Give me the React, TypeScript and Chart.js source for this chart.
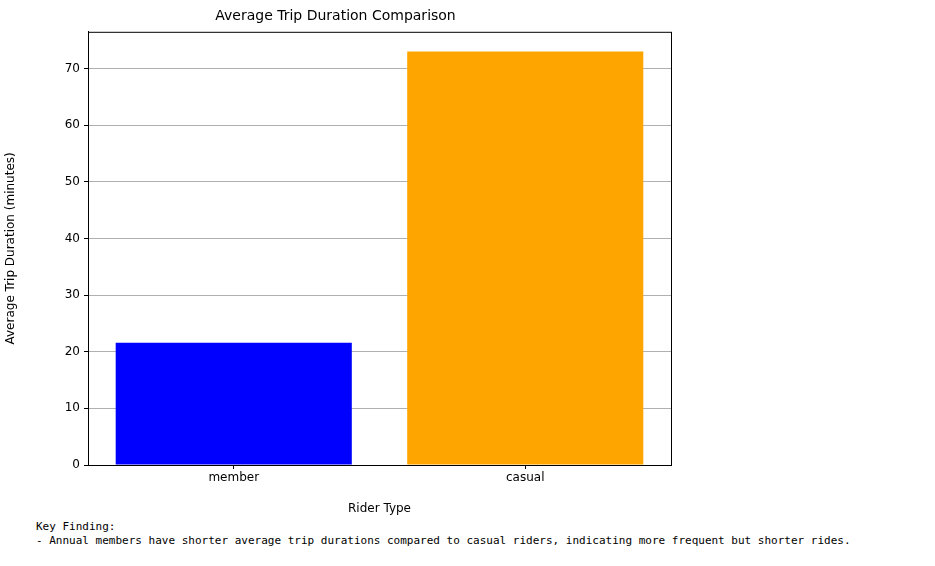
import { useEffect, useRef } from "react";
import { Chart, registerables } from "chart.js";

Chart.register(...registerables);

const riderTypes = ["member", "casual"];
const avgDuration = [21.6, 73.0];
const barColors = ["#0000ff", "#ffa500"];
const yTicks = [0, 10, 20, 30, 40, 50, 60, 70];

const boxPlugin = {
  id: "box",
  afterDraw(chart: any) {
    const { ctx, chartArea } = chart;
    ctx.save();
    ctx.strokeStyle = "#000";
    ctx.lineWidth = 1;
    ctx.strokeRect(chartArea.left + 0.5, chartArea.top + 0.5, chartArea.right - chartArea.left, chartArea.bottom - chartArea.top);
    ctx.restore();
  },
};

export default function App() {
  const chartRef = useRef<HTMLCanvasElement>(null);
  const chartInstance = useRef<Chart | null>(null);

  useEffect(() => {
    if (!chartRef.current) return;
    if (chartInstance.current) chartInstance.current.destroy();
    const ctx = chartRef.current.getContext("2d");
    if (!ctx) return;

    chartInstance.current = new Chart(ctx, {
      type: "bar",
      data: {
        labels: riderTypes,
        datasets: [{
          data: avgDuration,
          backgroundColor: barColors,
          barPercentage: 0.81,
          categoryPercentage: 1,
        }],
      },
      plugins: [boxPlugin],
      options: {
        animation: false,
        responsive: false,
        devicePixelRatio: 1,
        layout: { padding: { right: 29, left: 0, top: 0, bottom: 0 } },
        plugins: {
          legend: { display: false },
          tooltip: { enabled: false },
          title: {
            display: true,
            text: "Average Trip Duration Comparison",
            color: "#000",
            font: { family: "DejaVu Sans", size: 14, weight: "normal" },
            padding: { top: 8, bottom: 7 },
          },
        },
        scales: {
          x: {
            grid: { color: "rgba(0,0,0,0)", tickColor: "#000", tickLength: 4, offset: false },
            border: { color: "#000" },
            ticks: { color: "#000", font: { family: "DejaVu Sans", size: 12 }, padding: 2 },
            title: { display: true, text: "Rider Type", color: "#000", font: { family: "DejaVu Sans", size: 12 }, padding: { top: 2 } },
            afterFit: (s: any) => { s.height = 55; },
          },
          y: {
            min: 0,
            max: 76.5,
            afterBuildTicks: (s: any) => { s.ticks = yTicks.map((v) => ({ value: v })); },
            grid: { color: "#b0b0b0", tickColor: "#000", tickLength: 4 },
            border: { color: "#000" },
            ticks: { color: "#000", font: { family: "DejaVu Sans", size: 12 }, padding: 4 },
            title: { display: true, text: "Average Trip Duration (minutes)", color: "#000", font: { family: "DejaVu Sans", size: 12 }, padding: { bottom: 6 } },
            afterFit: (s: any) => { s.width = 88; },
          },
        },
      },
    });

    return () => {
      if (chartInstance.current) chartInstance.current.destroy();
    };
  }, []);

  return (
    <div style={{ position: "absolute", left: 0, top: 0, width: 935, height: 566, background: "#fff" }}>
      <canvas ref={chartRef} width={700} height={520} style={{ position: "absolute", left: 0, top: 0 }}></canvas>
      <pre style={{ position: "absolute", left: 36, top: 520, margin: 0, fontFamily: "DejaVu Sans Mono", fontSize: 11, lineHeight: "14px", color: "#000" }}>
        {"Key Finding:\n- Annual members have shorter average trip durations compared to casual riders, indicating more frequent but shorter rides."}
      </pre>
    </div>
  );
}
